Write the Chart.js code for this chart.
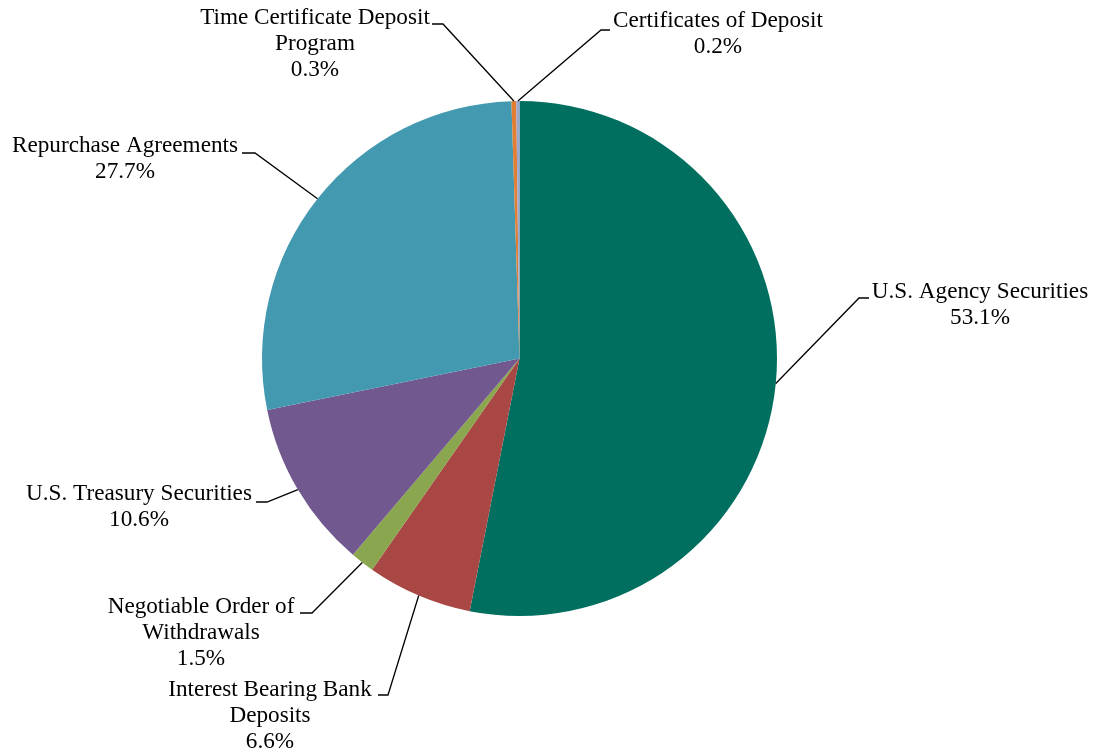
<!DOCTYPE html>
<html>
<head>
<meta charset="utf-8">
<script src="https://cdn.jsdelivr.net/npm/chart.js@4/dist/chart.umd.min.js"></script>
<style>
  html, body { margin: 0; padding: 0; background: #ffffff; }
  #wrap { width: 1097px; height: 754px; position: relative; }
</style>
</head>
<body>
<div id="wrap"><canvas id="c" width="1097" height="754"></canvas></div>
<script>
// ---- data ----
const categories = [
  "U.S. Agency Securities",
  "Interest Bearing Bank Deposits",
  "Negotiable Order of Withdrawals",
  "U.S. Treasury Securities",
  "Repurchase Agreements",
  "Time Certificate Deposit Program",
  "Certificates of Deposit"
];
const values = [53.1, 6.6, 1.5, 10.6, 27.7, 0.3, 0.2];
// label text lines as wrapped in the reference
const labelLines = [
  ["U.S. Agency Securities"],
  ["Interest Bearing Bank", "Deposits"],
  ["Negotiable Order of", "Withdrawals"],
  ["U.S. Treasury Securities"],
  ["Repurchase Agreements"],
  ["Time Certificate Deposit", "Program"],
  ["Certificates of Deposit"]
];

// ---- style / layout ----
const colors = ["#006F5F", "#A84744", "#8AA64F", "#71588F", "#4399B0", "#E07F34", "#9DA6CF"];
// label placement: text centre x, first-line centre y, elbow point, horizontal end toward text
const labelLayout = [
  { x: 980, y: 292, ex: 859, ey: 298, hx: 869 },
  { x: 270, y: 690, ex: 388, ey: 695, hx: 378 },
  { x: 201, y: 607, ex: 312, ey: 613, hx: 300 },
  { x: 139, y: 494, ex: 267, ey: 502, hx: 256 },
  { x: 125, y: 146, ex: 255, ey: 153, hx: 242 },
  { x: 315, y: 18,  ex: 443, ey: 24,  hx: 432 },
  { x: 718, y: 21,  ex: 601, ey: 30,  hx: 610 }
];
const FONT = '23.2px "Liberation Serif", "Times New Roman", serif';
const LINE_H = 26;

const labelPlugin = {
  id: 'outsideLabels',
  afterDatasetsDraw(chart) {
    const ctx = chart.ctx;
    const meta = chart.getDatasetMeta(0);
    ctx.save();
    meta.data.forEach((arc, i) => {
      const p = arc.getProps(['x', 'y', 'startAngle', 'endAngle', 'outerRadius'], true);
      const mid = (p.startAngle + p.endAngle) / 2;
      const px = p.x + Math.cos(mid) * p.outerRadius;
      const py = p.y + Math.sin(mid) * p.outerRadius;
      const L = labelLayout[i];
      ctx.strokeStyle = '#000000';
      ctx.lineWidth = 1.3;
      ctx.beginPath();
      ctx.moveTo(px, py);
      ctx.lineTo(L.ex, L.ey);
      ctx.lineTo(L.hx, L.ey);
      ctx.stroke();
      const lines = labelLines[i].concat([values[i].toFixed(1) + '%']);
      ctx.fillStyle = '#000000';
      ctx.font = FONT;
      ctx.textAlign = 'center';
      ctx.textBaseline = 'middle';
      lines.forEach((t, k) => ctx.fillText(t, L.x, L.y + k * LINE_H));
    });
    ctx.restore();
  }
};

new Chart(document.getElementById('c'), {
  type: 'pie',
  data: {
    labels: categories,
    datasets: [{
      data: values,
      backgroundColor: colors,
      borderWidth: 0
    }]
  },
  options: {
    responsive: false,
    animation: false,
    layout: { padding: { left: 262, right: 320, top: 101, bottom: 138 } },
    plugins: { legend: { display: false }, tooltip: { enabled: false } }
  },
  plugins: [labelPlugin]
});
</script>
</body>
</html>
